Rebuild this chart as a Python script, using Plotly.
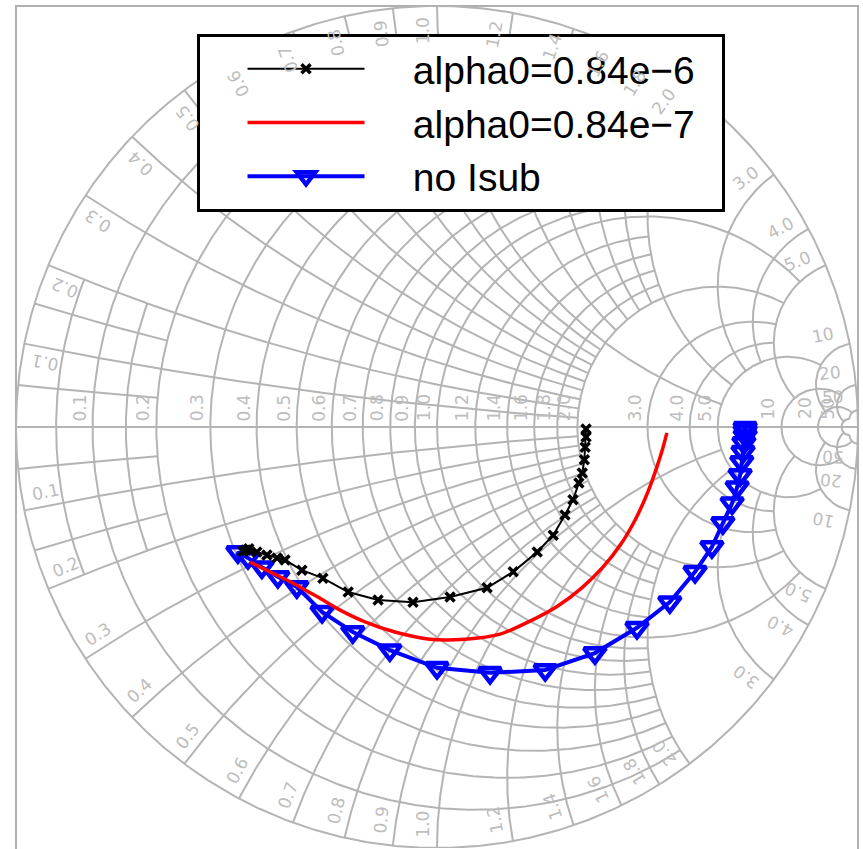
import numpy as np
import plotly.graph_objects as go

black_re = [-0.461, -0.454, -0.447, -0.428, -0.404, -0.380, -0.361, -0.321, -0.271, -0.211, -0.140,
            -0.057, 0.031, 0.119, 0.181, 0.238, 0.276, 0.304, 0.323, 0.337, 0.345, 0.350, 0.352,
            0.354, 0.354]
black_im = [-0.295, -0.292, -0.289, -0.297, -0.304, -0.311, -0.316, -0.340, -0.359, -0.392, -0.411,
            -0.416, -0.404, -0.382, -0.344, -0.297, -0.257, -0.209, -0.173, -0.133, -0.109, -0.078,
            -0.048, -0.024, -0.005]

red_re = [-0.444, -0.397, -0.342, -0.283, -0.230, -0.171, -0.100, -0.017, 0.067, 0.150, 0.221,
          0.287, 0.344, 0.394, 0.437, 0.473, 0.501, 0.523, 0.537, 0.546]
red_im = [-0.321, -0.344, -0.371, -0.404, -0.435, -0.463, -0.487, -0.504, -0.504, -0.492, -0.461,
          -0.425, -0.382, -0.333, -0.278, -0.216, -0.154, -0.093, -0.048, -0.014]

blue_re = [-0.473, -0.449, -0.416, -0.378, -0.333, -0.273, -0.200, -0.112, 0.000, 0.126, 0.257,
           0.375, 0.475, 0.553, 0.613, 0.653, 0.679, 0.701, 0.713, 0.720, 0.724, 0.727, 0.729,
           0.732, 0.732, 0.732]
blue_im = [-0.297, -0.311, -0.333, -0.356, -0.380, -0.439, -0.487, -0.530, -0.572, -0.584, -0.577,
           -0.537, -0.477, -0.416, -0.344, -0.285, -0.228, -0.181, -0.143, -0.114, -0.083, -0.059,
           -0.038, -0.021, -0.010, -0.002]

series_names = ["alpha0=0.84e\u22126", "alpha0=0.84e\u22127", "no Isub"]

# ---- Smith chart grid definition (value, extent along the other coordinate) ----
r_circles = [0.05, 0.15, 0.1, 0.2, 0.3, 0.4, 0.5, 0.6, 0.7, 0.8, 0.9, 1.0,
             1.2, 1.4, 1.6, 1.8, 2.0, 3.0, 4.0, 5.0, 10.0, 20.0, 50.0]
r_circle_xmax = [0.2, 0.2, 2, 2, 2, 2, 2, 2, 2, 2, 2, 5,
                 2, 2, 2, 2, 5, 5, 5, 10, 20, 50, 50]
x_arcs = [0.05, 0.15, 0.1, 0.2, 0.3, 0.4, 0.5, 0.6, 0.7, 0.8, 0.9, 1.0,
          1.2, 1.4, 1.6, 1.8, 2.0, 3.0, 4.0, 5.0, 10.0, 20.0, 50.0]
x_arc_rmax = [0.2, 0.2, 2, 2, 2, 2, 2, 2, 2, 2, 2, 5,
              2, 2, 2, 2, 5, 5, 5, 10, 20, 50, 50]

r_label_vals = [0.1, 0.2, 0.3, 0.4, 0.5, 0.6, 0.7, 0.8, 0.9, 1.0, 1.2, 1.4, 1.6, 1.8, 2.0,
                3.0, 4.0, 5.0, 10.0, 20.0, 50.0]
r_label_text = ["0.1", "0.2", "0.3", "0.4", "0.5", "0.6", "0.7", "0.8", "0.9", "1.0", "1.2", "1.4",
                "1.6", "1.8", "2.0", "3.0", "4.0", "5.0", "10", "20", "50"]
x_label_vals = r_label_vals
x_label_text = r_label_text

GRID_COLOR = "#b4b4b4"
LABEL_COLOR = "#bdbdbd"
R_PX = 421.0  # chart radius in pixels (for label offsets)
NBSP = "\u00a0"


def gamma(z):
    return (z - 1) / (z + 1)


gx, gy = [], []
# outer circle r=0 and real axis
t = np.linspace(0, 2 * np.pi, 900)
gx += list(np.cos(t)) + [None]
gy += list(np.sin(t)) + [None]
gx += [-1, 1, None]
gy += [0, 0, None]
for r, xm in zip(r_circles, r_circle_xmax):
    v = np.linspace(-np.arctan(xm), np.arctan(xm), 500)
    g = gamma(r + 1j * np.tan(v))
    gx += list(g.real) + [None]
    gy += list(g.imag) + [None]
for x, rm in zip(x_arcs, x_arc_rmax):
    u = np.linspace(0, np.arctan(rm), 400)
    for s in (1, -1):
        g = gamma(np.tan(u) + 1j * s * x)
        gx += list(g.real) + [None]
        gy += list(g.imag) + [None]

fig = go.Figure()
fig.add_trace(go.Scatter(x=gx, y=gy, mode="lines", line=dict(color=GRID_COLOR, width=2),
                         hoverinfo="skip", showlegend=False))


def legend_label(s):
    return NBSP * 4 + s + NBSP * 2


fig.add_trace(go.Scatter(x=blue_re, y=blue_im, mode="lines+markers", name=legend_label(series_names[2]),
                         legendrank=3,
                         line=dict(color="#0000ff", width=4),
                         marker=dict(symbol="triangle-down-open", size=19, color="#0000ff",
                                     line=dict(width=4.5, color="#0000ff"))))
fig.add_trace(go.Scatter(x=red_re, y=red_im, mode="lines", name=legend_label(series_names[1]),
                         legendrank=2,
                         line=dict(color="#ff0000", width=3.5, shape="spline", smoothing=0.8)))
fig.add_trace(go.Scatter(x=black_re, y=black_im, mode="lines+markers", name=legend_label(series_names[0]),
                         legendrank=1,
                         line=dict(color="#000000", width=2),
                         marker=dict(symbol="x-thin", size=9, color="#000000",
                                     line=dict(width=3.5, color="#000000"))))

annotations = []
# resistance labels along the real axis
for r, txt in zip(r_label_vals, r_label_text):
    xc = (r - 1) / (r + 1) - 13 / R_PX
    annotations.append(dict(x=xc, y=19 / R_PX, xref="x", yref="y", text=txt, showarrow=False,
                            textangle=-90, font=dict(family="DejaVu Sans", size=17, color=LABEL_COLOR)))
# reactance labels inside the rim
for xv, txt in zip(x_label_vals, x_label_text):
    for s in (1, -1):
        g = gamma(1j * s * xv)
        phi = np.degrees(np.angle(g)) % 360
        dphi = np.degrees(15 / R_PX)
        phi_l = phi + dphi if s > 0 else phi - dphi
        rad = 1 - 24 / R_PX
        px = rad * np.cos(np.radians(phi_l))
        py = rad * np.sin(np.radians(phi_l))
        ang = -(phi % 180)
        annotations.append(dict(x=px, y=py, xref="x", yref="y", text=txt, showarrow=False,
                                textangle=ang,
                                font=dict(family="DejaVu Sans", size=17, color=LABEL_COLOR)))

fig.update_layout(
    width=863, height=849,
    margin=dict(l=16, r=5, t=6, b=1, pad=0),
    paper_bgcolor="white", plot_bgcolor="white",
    xaxis=dict(range=[-1, 1], visible=False, fixedrange=True),
    yaxis=dict(range=[-1, 1], visible=False, fixedrange=True),
    annotations=annotations,
    shapes=[dict(type="rect", xref="paper", yref="paper", x0=0, x1=1, y0=-0.02, y1=1,
                 line=dict(color="#b0b0b0", width=2), layer="below")],
    legend=dict(x=(197 - 16) / 842, y=1 - (34 - 6) / 842, xanchor="left", yanchor="top",
                bgcolor="white", bordercolor="black", borderwidth=3,
                font=dict(family="Liberation Sans, Arial", size=39, color="black"),
                title=dict(text=NBSP * 3, side="left",
                           font=dict(family="Liberation Sans, Arial", size=39)),
                itemwidth=117, tracegroupgap=0),
    showlegend=True,
)

fig.write_html("out.html")
